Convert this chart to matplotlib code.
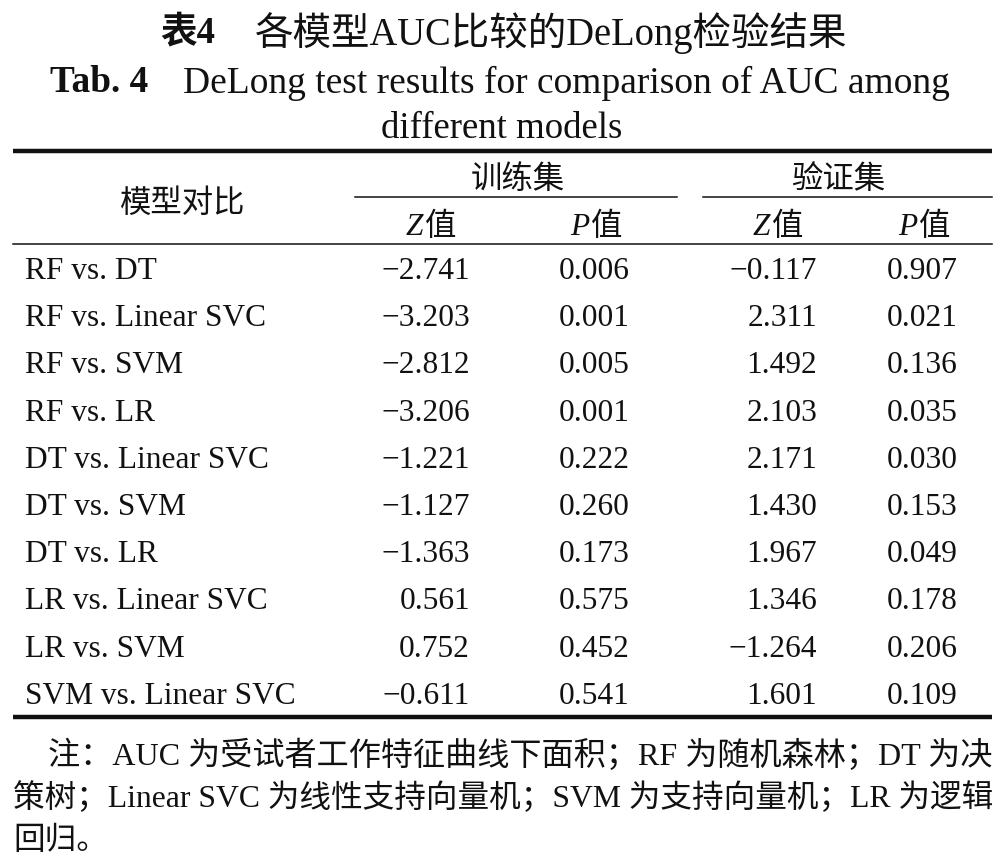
import matplotlib
matplotlib.use("Agg")
import matplotlib.pyplot as plt

# ---- data ----
comparisons = ["RF vs. DT", "RF vs. Linear SVC", "RF vs. SVM", "RF vs. LR",
               "DT vs. Linear SVC", "DT vs. SVM", "DT vs. LR",
               "LR vs. Linear SVC", "LR vs. SVM", "SVM vs. Linear SVC"]
z_train = [-2.741, -3.203, -2.812, -3.206, -1.221, -1.127, -1.363, 0.561, 0.752, -0.611]
p_train = [0.006, 0.001, 0.005, 0.001, 0.222, 0.260, 0.173, 0.575, 0.452, 0.541]
z_val = [-0.117, 2.311, 1.492, 2.103, 2.171, 1.430, 1.967, 1.346, -1.264, 1.601]
p_val = [0.907, 0.021, 0.136, 0.035, 0.030, 0.153, 0.049, 0.178, 0.206, 0.109]

title_cn_label = "表4"
title_cn = "各模型AUC比较的DeLong检验结果"
title_en_label = "Tab. 4"
title_en_1 = "DeLong test results for comparison of AUC among"
title_en_2 = "different models"
group_headers = ["训练集", "验证集"]
row_header = "模型对比"
note_lines = ["注：AUC 为受试者工作特征曲线下面积；RF 为随机森林；DT 为决",
              "策树；Linear SVC 为线性支持向量机；SVM 为支持向量机；LR 为逻辑",
              "回归。"]

FAM = ["Liberation Serif", "Noto Sans CJK SC"]
W, H = 1005, 862
fig = plt.figure(figsize=(W / 100, H / 100), dpi=100)
ax = fig.add_axes([0, 0, 1, 1])
ax.set_xlim(0, W)
ax.set_ylim(H, 0)
ax.axis("off")
renderer = fig.canvas.get_renderer()

def fmt(v):
    s = f"{v:.3f}"
    return s.replace("-", "\u2212")

BODY = 22.6
INK = "#111111"

def txt(x, y, s, size=BODY, ha="left", weight="light", **kw):
    return ax.text(x, y, s, fontsize=size, ha=ha, va="center_baseline",
                   family=FAM, color=INK, weight=weight, **kw)

def fit(t, target_w):
    w = t.get_window_extent(renderer=renderer).width
    t.set_fontsize(t.get_fontsize() * target_w / w)

# titles
fit(txt(160, 29, title_cn_label, size=26, weight="bold"), 55)
fit(txt(255, 29, title_cn, size=26), 593)
fit(txt(50, 79, title_en_label, size=26, weight="bold"), 98)
fit(txt(183, 79, title_en_1, size=26), 767)
txt(502, 125, title_en_2, size=26.5, ha="center")

# rules
L, R = 13, 992
ax.plot([L, R], [152, 152], color=INK, lw=3.2, solid_capstyle="butt")
ax.plot([355, 677], [198, 198], color=INK, lw=1.1)
ax.plot([703, R], [198, 198], color=INK, lw=1.1)
ax.plot([L, R], [245, 245], color=INK, lw=1.1)
ax.plot([L, R], [718, 718], color=INK, lw=3.2, solid_capstyle="butt")

# headers
txt(183, 201, row_header, ha="center")
txt(518, 177, group_headers[0], ha="center")
txt(838, 177, group_headers[1], ha="center")
for cx, letter in [(426, "Z"), (592, "P"), (773, "Z"), (920, "P")]:
    ax.text(cx - 3, 224, letter, fontsize=BODY, ha="right", va="center_baseline",
            family="Liberation Serif", style="italic", color=INK)
    txt(cx - 1, 224, "值", ha="left")

# rows
y0, dy = 268, 47.2
for i, name in enumerate(comparisons):
    y = y0 + i * dy
    txt(25, y, name)
    txt(470, y, fmt(z_train[i]), ha="right")
    txt(630, y, fmt(p_train[i]), ha="right")
    txt(817, y, fmt(z_val[i]), ha="right")
    txt(958, y, fmt(p_val[i]), ha="right")

# notes
n1 = txt(48, 752, note_lines[0], size=22)
fit(n1, 944)
n2 = txt(13, 795, note_lines[1], size=22)
fit(n2, 979)
txt(13, 838, note_lines[2], size=n2.get_fontsize())

fig.savefig("out.png", dpi=100, facecolor="white")
